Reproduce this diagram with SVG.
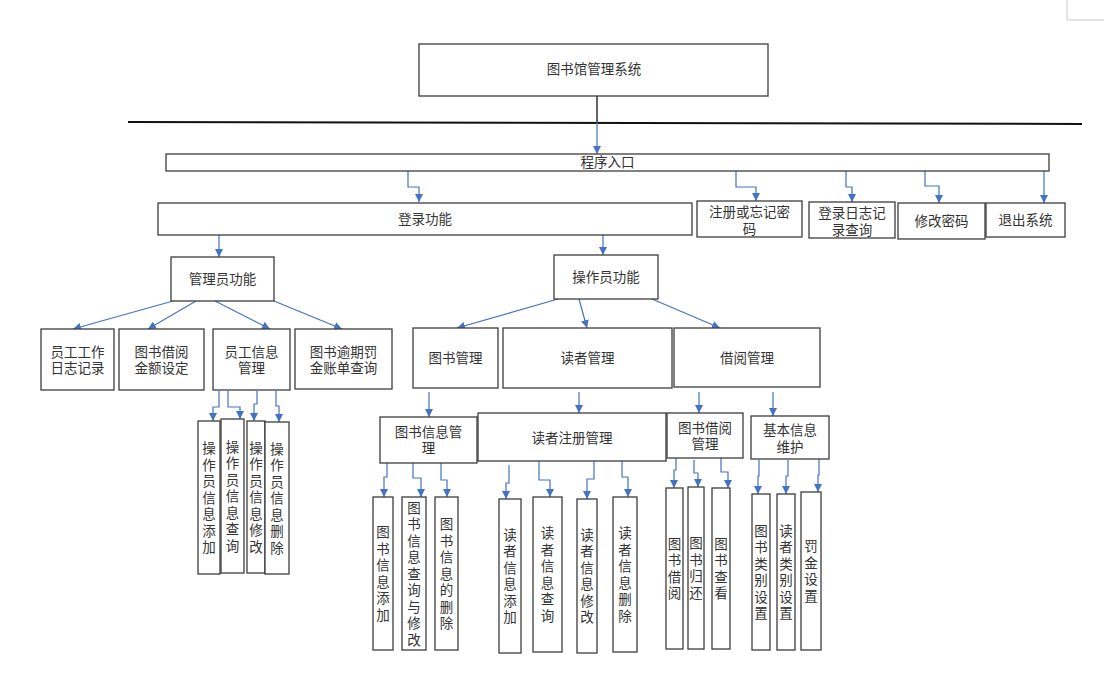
<svg xmlns="http://www.w3.org/2000/svg" width="1104" height="678" viewBox="0 0 1104 678">
<style>
.box{fill:#fff;stroke:#3c3c3c;stroke-width:1.3}
.t{font-family:"Liberation Sans","Noto Sans CJK SC",sans-serif;font-size:13.5px;fill:#333;text-anchor:middle;dominant-baseline:central}
.c{fill:none;stroke:#4472c4;stroke-width:1.2;marker-end:url(#a)}
</style>
<defs>
<marker id="a" markerUnits="userSpaceOnUse" markerWidth="9" markerHeight="8" refX="8" refY="4" orient="auto">
<path d="M0,0 L8,4 L0,8 z" fill="#4472c4"/>
</marker>
</defs>
<rect width="1104" height="678" fill="#fff"/>
<path d="M1067,0 V20 H1104" fill="none" stroke="#c8c8c8" stroke-width="1"/>
<line x1="128" y1="122" x2="1082" y2="124" stroke="#111" stroke-width="2"/>

<g id="connectors">
<line x1="597" y1="96" x2="597" y2="122" stroke="#111" stroke-width="1.3"/>
<polyline class="c" points="597,122 597,154"/>
<polyline class="c" points="408,171 408,187 419,187 419,202"/>
<polyline class="c" points="736,171 736,187 756,187 756,201"/>
<polyline class="c" points="846,171 846,187 852,187 852,202"/>
<polyline class="c" points="925,171 925,186 939,186 939,203"/>
<polyline class="c" points="1044,171 1044,203"/>
<polyline class="c" points="219,235 219,257"/>
<polyline class="c" points="603,235 603,255"/>
<polyline class="c" points="173,301 73,329"/>
<polyline class="c" points="196,301 148,329"/>
<polyline class="c" points="215,301 270,329"/>
<polyline class="c" points="274,301 342,329"/>
<polyline class="c" points="219,391 219,407 213,407 213,421"/>
<polyline class="c" points="228,391 228,407 240,407 240,419"/>
<polyline class="c" points="257,391 257,404 254,404 254,421"/>
<polyline class="c" points="276,391 276,406 279,406 279,422"/>
<polyline class="c" points="558,299 457,328"/>
<polyline class="c" points="579,299 587,328"/>
<polyline class="c" points="652,299 720,328"/>
<polyline class="c" points="429,392 429,417"/>
<polyline class="c" points="579,392 579,413"/>
<polyline class="c" points="699,392 699,413"/>
<polyline class="c" points="773,392 773,416"/>
<polyline class="c" points="387,463 387,477 384,477 384,497"/>
<polyline class="c" points="413,463 413,478 421,478 421,497"/>
<polyline class="c" points="441,463 441,480 447,480 447,497"/>
<polyline class="c" points="509,465 509,483 506,483 506,499"/>
<polyline class="c" points="539,461 539,480 550,480 550,497"/>
<polyline class="c" points="594,461 594,479 587,479 587,499"/>
<polyline class="c" points="622,461 622,477 628,477 628,497"/>
<polyline class="c" points="676,458 676,470 674,470 674,488"/>
<polyline class="c" points="694,460 694,473 698,473 698,487"/>
<polyline class="c" points="721,458 721,472 728,472 728,488"/>
<polyline class="c" points="759,460 759,476 758,476 758,494"/>
<polyline class="c" points="788,460 788,476 786,476 786,494"/>
<polyline class="c" points="819,459 819,475 818,475 818,492"/>
</g>

<g id="n-title"><rect class="box" x="419" y="44" width="349" height="52"/><text class="t" x="594" y="69">图书馆管理系统</text></g>
<g id="n-entry"><rect class="box" x="166" y="154" width="883" height="17"/><text class="t" x="607.5" y="162.5">程序入口</text></g>
<g id="n-login"><rect class="box" x="158" y="203" width="534" height="32"/><text class="t" x="425" y="219">登录功能</text></g>
<g id="n-register"><rect class="box" x="697" y="201" width="105" height="36"/><text class="t"><tspan x="749.5" y="212">注册或忘记密</tspan><tspan x="749.5" y="229">码</tspan></text></g>
<g id="n-loginlog"><rect class="box" x="809" y="202" width="86" height="36"/><text class="t"><tspan x="852" y="212.5">登录日志记</tspan><tspan x="852" y="230">录查询</tspan></text></g>
<g id="n-changepwd"><rect class="box" x="898" y="203" width="87" height="36"/><text class="t" x="941.5" y="221.5">修改密码</text></g>
<g id="n-exit"><rect class="box" x="986" y="203" width="79" height="34"/><text class="t" x="1025.5" y="220">退出系统</text></g>

<g id="n-admin"><rect class="box" x="171" y="257" width="103" height="44"/><text class="t" x="222.5" y="279">管理员功能</text></g>
<g id="n-worklog"><rect class="box" x="41" y="329" width="73" height="61"/><text class="t"><tspan x="77.5" y="352">员工工作</tspan><tspan x="77.5" y="368">日志记录</tspan></text></g>
<g id="n-amount"><rect class="box" x="119" y="329" width="85" height="61"/><text class="t"><tspan x="161.5" y="352">图书借阅</tspan><tspan x="161.5" y="368">金额设定</tspan></text></g>
<g id="n-staffinfo"><rect class="box" x="213" y="329" width="77" height="61"/><text class="t"><tspan x="251.5" y="352">员工信息</tspan><tspan x="251.5" y="368">管理</tspan></text></g>
<g id="n-overdue"><rect class="box" x="295" y="329" width="97" height="60"/><text class="t"><tspan x="343.5" y="352">图书逾期罚</tspan><tspan x="343.5" y="368">金账单查询</tspan></text></g>

<g id="n-op-add"><rect class="box" x="198" y="421" width="22" height="153"/><text class="t"><tspan x="209" y="448">操</tspan><tspan x="209" y="464.5">作</tspan><tspan x="209" y="481">员</tspan><tspan x="209" y="497.5">信</tspan><tspan x="209" y="514">息</tspan><tspan x="209" y="530.5">添</tspan><tspan x="209" y="547">加</tspan></text></g>
<g id="n-op-query"><rect class="box" x="221" y="419" width="23" height="154"/><text class="t"><tspan x="232.5" y="446.5">操</tspan><tspan x="232.5" y="463">作</tspan><tspan x="232.5" y="479.5">员</tspan><tspan x="232.5" y="496">信</tspan><tspan x="232.5" y="512.5">息</tspan><tspan x="232.5" y="529">查</tspan><tspan x="232.5" y="545.5">询</tspan></text></g>
<g id="n-op-edit"><rect class="box" x="247" y="421" width="18" height="152"/><text class="t"><tspan x="256" y="447.5">操</tspan><tspan x="256" y="464">作</tspan><tspan x="256" y="480.5">员</tspan><tspan x="256" y="497">信</tspan><tspan x="256" y="513.5">息</tspan><tspan x="256" y="530">修</tspan><tspan x="256" y="546.5">改</tspan></text></g>
<g id="n-op-del"><rect class="box" x="265" y="422" width="24" height="152"/><text class="t"><tspan x="277" y="448.5">操</tspan><tspan x="277" y="465">作</tspan><tspan x="277" y="481.5">员</tspan><tspan x="277" y="498">信</tspan><tspan x="277" y="514.5">息</tspan><tspan x="277" y="531">删</tspan><tspan x="277" y="547.5">除</tspan></text></g>

<g id="n-operator"><rect class="box" x="554" y="255" width="104" height="44"/><text class="t" x="606" y="277">操作员功能</text></g>
<g id="n-bookmgmt"><rect class="box" x="413" y="328" width="85" height="60"/><text class="t" x="455.5" y="358">图书管理</text></g>
<g id="n-readermgmt"><rect class="box" x="503" y="328" width="169" height="60"/><text class="t" x="587.5" y="358">读者管理</text></g>
<g id="n-borrowmgmt"><rect class="box" x="674" y="328" width="146" height="59"/><text class="t" x="747" y="358">借阅管理</text></g>

<g id="n-bookinfo"><rect class="box" x="380" y="417" width="97" height="46"/><text class="t"><tspan x="428.5" y="432">图书信息管</tspan><tspan x="428.5" y="448">理</tspan></text></g>
<g id="n-readerreg"><rect class="box" x="478" y="413" width="188" height="48"/><text class="t" x="572" y="438">读者注册管理</text></g>
<g id="n-bookborrow"><rect class="box" x="667" y="413" width="76" height="45"/><text class="t"><tspan x="705" y="428">图书借阅</tspan><tspan x="705" y="444">管理</tspan></text></g>
<g id="n-basic"><rect class="box" x="751" y="416" width="78" height="43"/><text class="t"><tspan x="790" y="430">基本信息</tspan><tspan x="790" y="447">维护</tspan></text></g>

<g id="n-book-add"><rect class="box" x="373" y="497" width="20" height="153"/><text class="t"><tspan x="383" y="532.25">图</tspan><tspan x="383" y="548.75">书</tspan><tspan x="383" y="565.25">信</tspan><tspan x="383" y="581.75">息</tspan><tspan x="383" y="598.25">添</tspan><tspan x="383" y="614.75">加</tspan></text></g>
<g id="n-book-query"><rect class="box" x="402" y="497" width="24" height="153"/><text class="t"><tspan x="414" y="507.5">图</tspan><tspan x="414" y="524">书</tspan><tspan x="414" y="540.5">信</tspan><tspan x="414" y="557">息</tspan><tspan x="414" y="573.5">查</tspan><tspan x="414" y="590">询</tspan><tspan x="414" y="606.5">与</tspan><tspan x="414" y="623">修</tspan><tspan x="414" y="639.5">改</tspan></text></g>
<g id="n-book-del"><rect class="box" x="435" y="497" width="23" height="153"/><text class="t"><tspan x="446.5" y="524">图</tspan><tspan x="446.5" y="540.5">书</tspan><tspan x="446.5" y="557">信</tspan><tspan x="446.5" y="573.5">息</tspan><tspan x="446.5" y="590">的</tspan><tspan x="446.5" y="606.5">删</tspan><tspan x="446.5" y="623">除</tspan></text></g>

<g id="n-reader-add"><rect class="box" x="499" y="499" width="22" height="154"/><text class="t"><tspan x="510" y="534.75">读</tspan><tspan x="510" y="551.25">者</tspan><tspan x="510" y="567.75">信</tspan><tspan x="510" y="584.25">息</tspan><tspan x="510" y="600.75">添</tspan><tspan x="510" y="617.25">加</tspan></text></g>
<g id="n-reader-query"><rect class="box" x="533" y="497" width="29" height="155"/><text class="t"><tspan x="547.5" y="533.25">读</tspan><tspan x="547.5" y="549.75">者</tspan><tspan x="547.5" y="566.25">信</tspan><tspan x="547.5" y="582.75">息</tspan><tspan x="547.5" y="599.25">查</tspan><tspan x="547.5" y="615.75">询</tspan></text></g>
<g id="n-reader-edit"><rect class="box" x="577" y="499" width="20" height="154"/><text class="t"><tspan x="587" y="534.75">读</tspan><tspan x="587" y="551.25">者</tspan><tspan x="587" y="567.75">信</tspan><tspan x="587" y="584.25">息</tspan><tspan x="587" y="600.75">修</tspan><tspan x="587" y="617.25">改</tspan></text></g>
<g id="n-reader-del"><rect class="box" x="613" y="497" width="24" height="155"/><text class="t"><tspan x="625" y="533.25">读</tspan><tspan x="625" y="549.75">者</tspan><tspan x="625" y="566.25">信</tspan><tspan x="625" y="582.75">息</tspan><tspan x="625" y="599.25">删</tspan><tspan x="625" y="615.75">除</tspan></text></g>

<g id="n-borrow"><rect class="box" x="666" y="488" width="17" height="161"/><text class="t"><tspan x="674.5" y="543.75">图</tspan><tspan x="674.5" y="560.25">书</tspan><tspan x="674.5" y="576.75">借</tspan><tspan x="674.5" y="593.25">阅</tspan></text></g>
<g id="n-return"><rect class="box" x="688" y="487" width="16" height="162"/><text class="t"><tspan x="696" y="543.25">图</tspan><tspan x="696" y="559.75">书</tspan><tspan x="696" y="576.25">归</tspan><tspan x="696" y="592.75">还</tspan></text></g>
<g id="n-view"><rect class="box" x="712" y="488" width="18" height="161"/><text class="t"><tspan x="721" y="543.75">图</tspan><tspan x="721" y="560.25">书</tspan><tspan x="721" y="576.75">查</tspan><tspan x="721" y="593.25">看</tspan></text></g>

<g id="n-bookcat"><rect class="box" x="752" y="494" width="18" height="156"/><text class="t"><tspan x="761" y="530.75">图</tspan><tspan x="761" y="547.25">书</tspan><tspan x="761" y="563.75">类</tspan><tspan x="761" y="580.25">别</tspan><tspan x="761" y="596.75">设</tspan><tspan x="761" y="613.25">置</tspan></text></g>
<g id="n-readercat"><rect class="box" x="777" y="494" width="18" height="156"/><text class="t"><tspan x="786" y="530.75">读</tspan><tspan x="786" y="547.25">者</tspan><tspan x="786" y="563.75">类</tspan><tspan x="786" y="580.25">别</tspan><tspan x="786" y="596.75">设</tspan><tspan x="786" y="613.25">置</tspan></text></g>
<g id="n-fine"><rect class="box" x="801" y="492" width="20" height="158"/><text class="t"><tspan x="811" y="546.25">罚</tspan><tspan x="811" y="562.75">金</tspan><tspan x="811" y="579.25">设</tspan><tspan x="811" y="595.75">置</tspan></text></g>
</svg>
